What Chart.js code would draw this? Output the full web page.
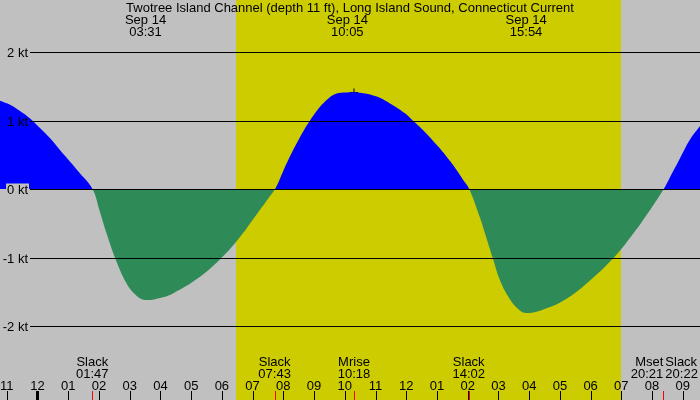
<!DOCTYPE html>
<html>
<head>
<meta charset="utf-8">
<script src="https://cdn.jsdelivr.net/npm/chart.js@4/dist/chart.umd.min.js"></script>
<style>
html,body{margin:0;padding:0;background:#c0c0c0;overflow:hidden}
canvas{display:block}
</style>
</head>
<body>
<canvas id="c" width="700" height="400"></canvas>
<script>
// ---- data (hours measured from midnight, Sep 14) ----
const titleText = 'Twotree Island Channel (depth 11 ft), Long Island Sound, Connecticut Current';
const dateLabel = 'Sep 14';
const curveTimes  = [-1.22,-0.89,-0.57,-0.24,0.08,0.41,0.73,1.06,1.38,1.79,
                     2.03,2.25,2.52,2.90,3.23,3.52,3.99,4.42,5.29,6.00,6.59,7.10,7.54,7.73,
                     7.87,8.11,8.38,8.67,8.87,9.03,9.25,9.46,9.71,10.05,10.60,11.04,11.47,11.96,12.21,12.55,13.04,13.48,13.86,14.05,
                     14.40,14.60,14.81,15.05,15.32,15.59,15.90,16.57,17.22,17.87,18.76,19.39,19.93,20.38,
                     20.58,20.91,21.23,21.56];
const curveSpeeds = [1.29,1.23,1.14,1.03,0.89,0.74,0.57,0.40,0.23,0,
                     -0.33,-0.65,-1.00,-1.38,-1.56,-1.62,-1.59,-1.52,-1.28,-1.00,-0.70,-0.39,-0.12,0,
                     0.13,0.375,0.62,0.86,1.00,1.105,1.23,1.32,1.39,1.41,1.40,1.35,1.25,1.105,1.00,0.86,0.62,0.375,0.13,0,
                     -0.42,-0.70,-1.00,-1.33,-1.57,-1.73,-1.81,-1.74,-1.60,-1.38,-1.00,-0.65,-0.31,0,
                     0.17,0.45,0.72,0.92];
const peakTimes   = ['03:31','10:05','15:54'];
const eventNames  = ['Slack','Slack','Mrise','Slack','Mset','Slack'];
const eventTimes  = ['01:47','07:43','10:18','14:02','20:21','20:22'];
const hourTicks   = [-1,0,1,2,3,4,5,6,7,8,9,10,11,12,13,14,15,16,17,18,19,20,21];
const hourLabels  = ['11','12','01','02','03','04','05','06','07','08','09','10','11','12','01','02','03','04','05','06','07','08','09'];
const speedTicks  = [-2,-1,0,1,2];
const speedLabels = ['-2 kt','-1 kt','0 kt','1 kt','2 kt'];
const daylight    = ['06:28','19:00'];
const moonMarkerTime  = '10:18';
const moonMarkerSpeed = 1.41;
const xRange = [-1.22, 21.56];
const yRange = [-3.08, 2.76];

// ---- helpers ----
const toHours = s => { const [h,m] = s.split(':').map(Number); return h + m/60; };
const FONT = '13px "Liberation Sans", Arial, sans-serif';
const GREY = '#c0c0c0', DAY = '#cccc00';

const decor = {
  id: 'decor',
  beforeDraw(chart) {
    const {ctx, width, height} = chart;
    const xs = chart.scales.x;
    ctx.save();
    ctx.fillStyle = GREY;
    ctx.fillRect(0, 0, width, height);
    const x1 = xs.getPixelForValue(toHours(daylight[0]));
    const x2 = xs.getPixelForValue(toHours(daylight[1]));
    ctx.fillStyle = DAY;
    ctx.fillRect(Math.round(x1), 0, Math.round(x2) - Math.round(x1), height);
    ctx.restore();
  },
  afterDatasetsDraw(chart) {
    const {ctx, width, height} = chart;
    const xs = chart.scales.x, ys = chart.scales.y;
    ctx.save();
    ctx.font = FONT;
    // horizontal reference lines + labels
    speedTicks.forEach((v, i) => {
      const y = Math.round(ys.getPixelForValue(v)) + 0.5;
      const label = speedLabels[i];
      const w = ctx.measureText(label).width;
      if (v === 0) {
        ctx.fillStyle = GREY;
        ctx.fillRect(28 - w - 1, y - 6, w + 2, 6);
      }
      ctx.strokeStyle = '#000';
      ctx.lineWidth = 1;
      ctx.beginPath();
      ctx.moveTo(30, y);
      ctx.lineTo(width, y);
      ctx.stroke();
      ctx.fillStyle = '#000';
      ctx.textAlign = 'right';
      ctx.textBaseline = 'alphabetic';
      ctx.fillText(label, 28, y + 4);
    });
    // hour ticks + labels
    ctx.textAlign = 'center';
    hourTicks.forEach((h, i) => {
      const px = xs.getPixelForValue(h);
      const x = Math.round(px) + 0.5;
      ctx.strokeStyle = '#000';
      ctx.lineWidth = (h === 0) ? 3 : 1;
      ctx.beginPath();
      ctx.moveTo(x, 391);
      ctx.lineTo(x, height);
      ctx.stroke();
      ctx.fillStyle = '#000';
      ctx.fillText(hourLabels[i], px, 390);
    });
    // event ticks + labels
    const ev = eventTimes.map((s, i) => ({name: eventNames[i], time: s,
      px: xs.getPixelForValue(toHours(s)), align: 'center'}));
    for (let i = 1; i < ev.length; i++) {
      if (ev[i].px - ev[i-1].px < 20) { ev[i-1].align = 'right'; ev[i].align = 'left'; }
    }
    ev.forEach(e => {
      const x = Math.round(e.px) + 0.5;
      ctx.strokeStyle = '#ff0000';
      ctx.lineWidth = 1;
      ctx.beginPath();
      ctx.moveTo(x, 391);
      ctx.lineTo(x, height);
      ctx.stroke();
      ctx.fillStyle = '#000';
      ctx.textAlign = e.align;
      const tx = e.align === 'right' ? e.px + 0.5 : (e.align === 'left' ? e.px + 2 : e.px);
      ctx.fillText(e.name, tx, 366);
      ctx.fillText(e.time, tx, 377.5);
    });
    // peak labels at top
    ctx.textAlign = 'center';
    peakTimes.forEach(s => {
      const px = xs.getPixelForValue(toHours(s));
      ctx.fillText(dateLabel, px, 24);
      ctx.fillText(s, px, 36);
    });
    // title
    ctx.fillText(titleText, width / 2, 12);
    ctx.restore();
  }
};

new Chart(document.getElementById('c'), {
  type: 'line',
  data: {
    datasets: [
      {
        data: curveTimes.map((t, i) => ({x: t, y: curveSpeeds[i]})),
        borderColor: 'rgba(0,0,0,0)',
        borderWidth: 0,
        pointRadius: 0,
        tension: 0.4,
        fill: {target: 'origin', above: '#0000ff', below: '#2e8b57'}
      },
      {
        data: [{x: toHours(moonMarkerTime), y: moonMarkerSpeed}],
        showLine: false,
        pointStyle: 'cross',
        pointRadius: 4,
        borderColor: '#000',
        borderWidth: 1,
        backgroundColor: '#000'
      }
    ]
  },
  options: {
    responsive: false,
    animation: false,
    layout: {padding: 0, autoPadding: false},
    plugins: {legend: {display: false}, tooltip: {enabled: false}, title: {display: false}},
    scales: {
      x: {type: 'linear', min: xRange[0], max: xRange[1], display: false},
      y: {type: 'linear', min: yRange[0], max: yRange[1], display: false}
    }
  },
  plugins: [decor]
});
</script>
</body>
</html>
